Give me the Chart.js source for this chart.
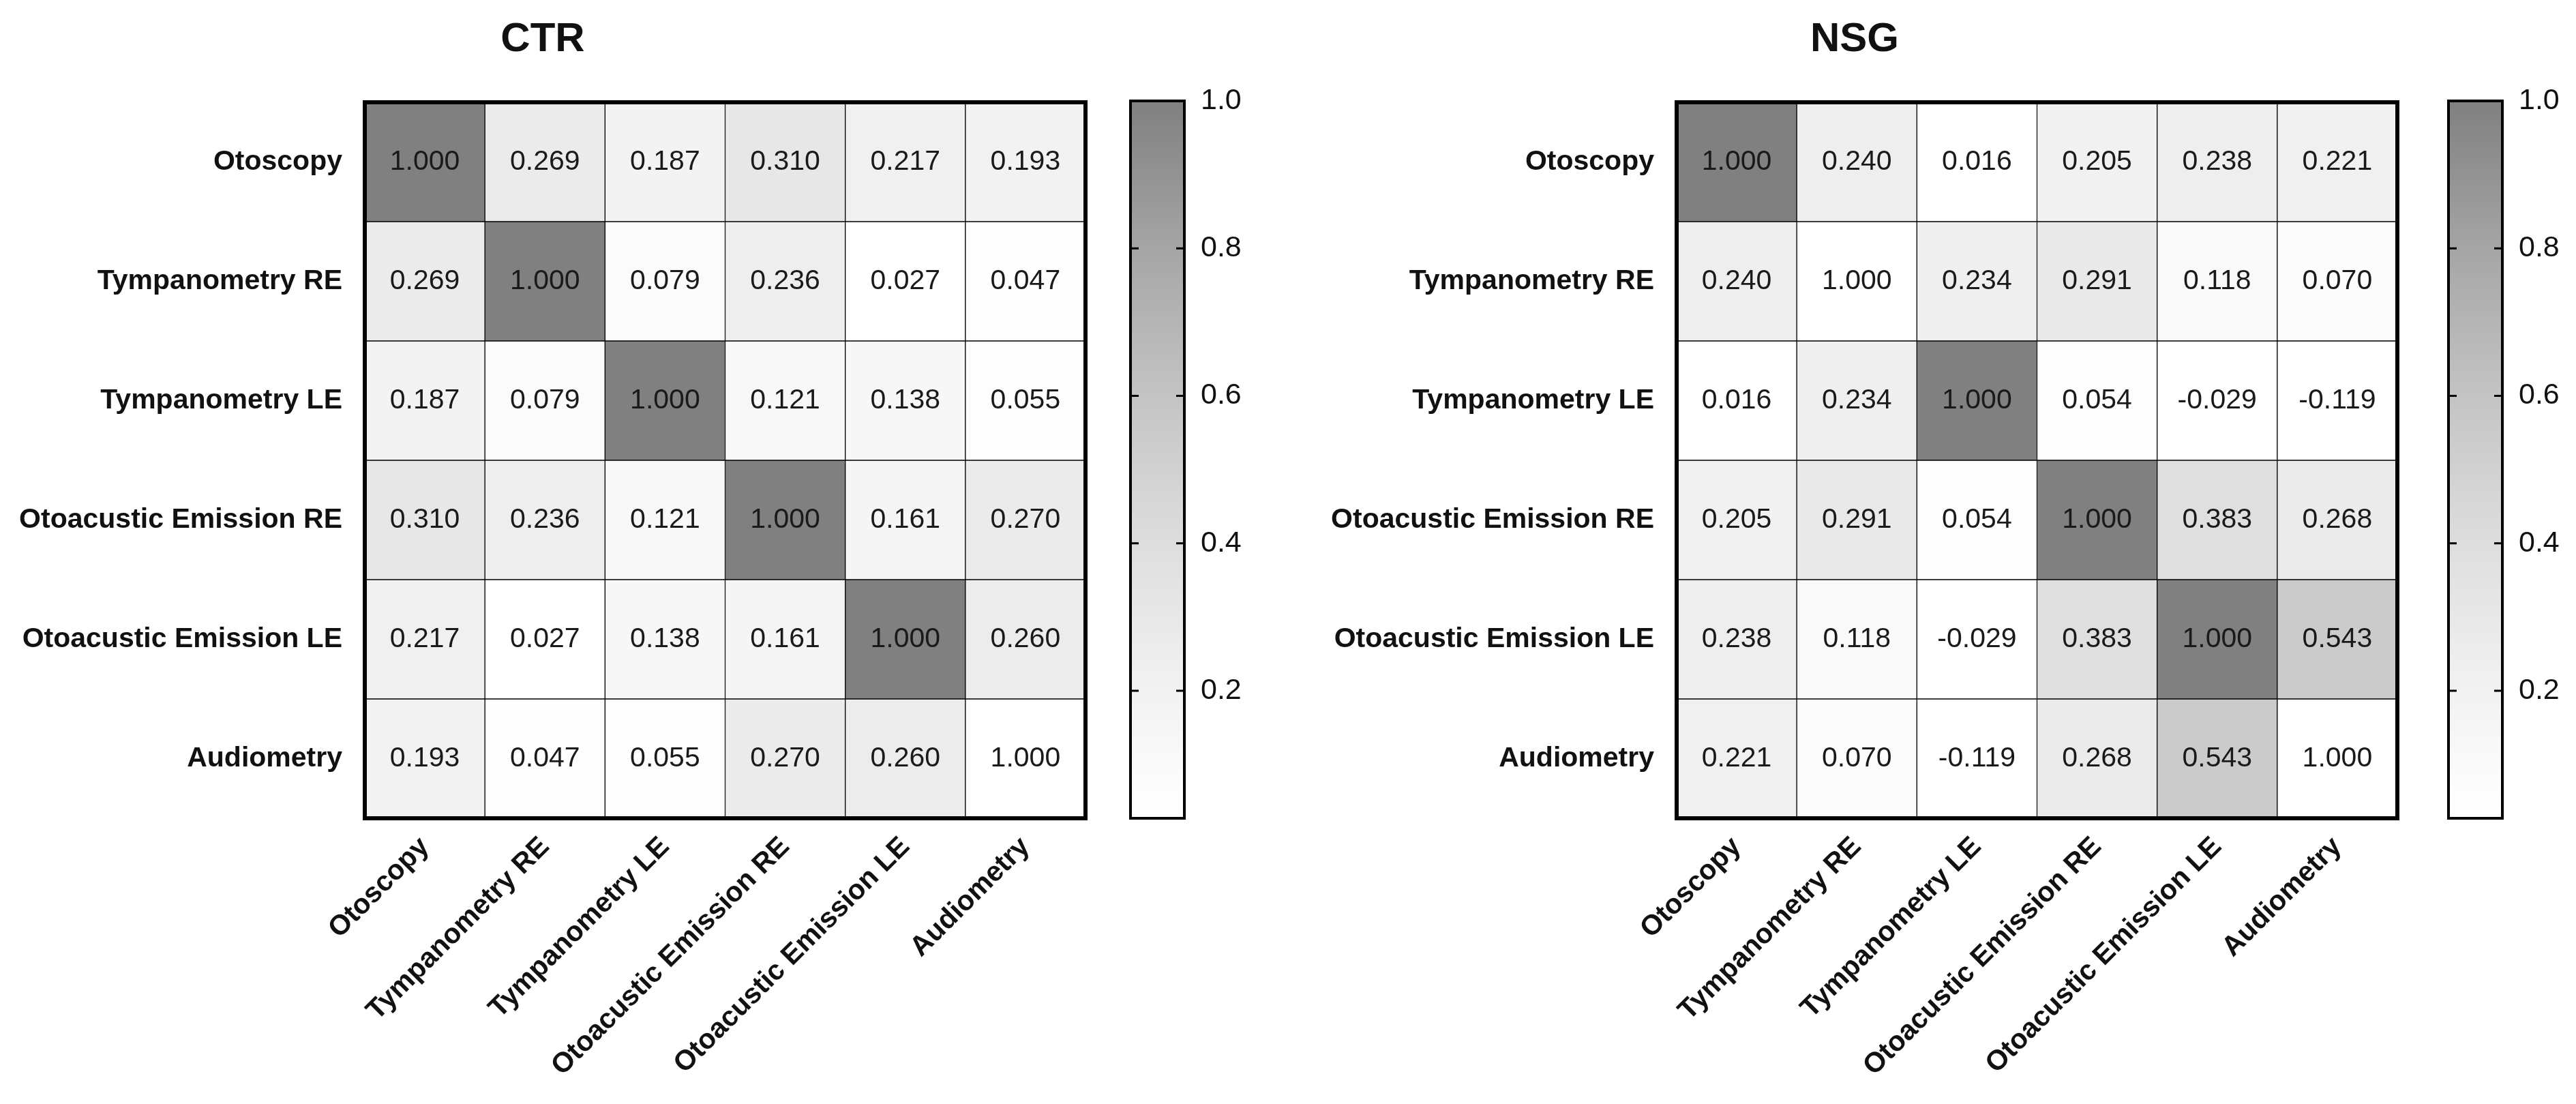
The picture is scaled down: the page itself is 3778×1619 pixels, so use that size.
<!DOCTYPE html>
<html>
<head>
<meta charset="utf-8">
<script src="https://cdn.jsdelivr.net/npm/chart.js@4.4.1/dist/chart.umd.min.js"></script>
<style>
html, body { margin: 0; padding: 0; background: #fff; }
#page { position: relative; width: 3778px; height: 1619px; overflow: hidden; background: #fff; }
canvas { position: absolute; top: 0; }
</style>
</head>
<body>
<div id="page">
  <canvas id="ctrMap" width="2127" height="1619" style="left:0px"></canvas>
  <canvas id="ctrBar" width="200" height="1619" style="left:1640px"></canvas>
  <canvas id="nsgMap" width="2127" height="1619" style="left:1924px"></canvas>
  <canvas id="nsgBar" width="200" height="1619" style="left:3573px"></canvas>
</div>
<script>
var measures = ["Otoscopy", "Tympanometry RE", "Tympanometry LE",
  "Otoacustic Emission RE", "Otoacustic Emission LE", "Audiometry"];

var ctrValues = [
  [1.000, 0.269, 0.187, 0.310, 0.217, 0.193],
  [0.269, 1.000, 0.079, 0.236, 0.027, 0.047],
  [0.187, 0.079, 1.000, 0.121, 0.138, 0.055],
  [0.310, 0.236, 0.121, 1.000, 0.161, 0.270],
  [0.217, 0.027, 0.138, 0.161, 1.000, 0.260],
  [0.193, 0.047, 0.055, 0.270, 0.260, 1.000]
];
var nsgValues = [
  [1.000, 0.240, 0.016, 0.205, 0.238, 0.221],
  [0.240, 1.000, 0.234, 0.291, 0.118, 0.070],
  [0.016, 0.234, 1.000, 0.054, -0.029, -0.119],
  [0.205, 0.291, 0.054, 1.000, 0.383, 0.268],
  [0.238, 0.118, -0.029, 0.383, 1.000, 0.543],
  [0.221, 0.070, -0.119, 0.268, 0.543, 1.000]
];
// cells left unshaded in the original figure [row, col]
var ctrBlank = [[5, 5]];
var nsgBlank = [[1, 1], [5, 5]];

var scaleMin = 0.027, scaleMax = 1.0;
var barTicks = [0.2, 0.4, 0.6, 0.8, 1.0];

Chart.defaults.font.family = "'Liberation Sans', Arial, Helvetica, sans-serif";
Chart.defaults.color = '#111';

function shade(v) {
  var t = (v - scaleMin) / (scaleMax - scaleMin);
  t = Math.max(0, Math.min(1, t));
  var f = 0.5 * t + 0.5 * t * t;
  var g = Math.round(255 - 127 * f);
  return 'rgb(' + g + ',' + g + ',' + g + ')';
}

function isBlank(list, r, c) {
  return list.some(function (p) { return p[0] === r && p[1] === c; });
}

var cellText = {
  id: 'cellText',
  afterDatasetsDraw: function (chart) {
    var ctx = chart.ctx;
    ctx.save();
    ctx.font = "41px 'Liberation Sans', Arial, sans-serif";
    ctx.fillStyle = '#1a1a1a';
    ctx.textAlign = 'center';
    ctx.textBaseline = 'middle';
    chart.data.datasets.forEach(function (ds, i) {
      chart.getDatasetMeta(i).data.forEach(function (bar, j) {
        var p = bar.getCenterPoint();
        ctx.fillText(ds.cellValues[j].toFixed(3), p.x, p.y);
      });
    });
    ctx.restore();
  }
};

var frame = {
  id: 'frame',
  afterDraw: function (chart, args, opts) {
    var a = chart.chartArea, ctx = chart.ctx;
    ctx.save();
    ctx.strokeStyle = '#000';
    ctx.lineWidth = opts.width || 6;
    ctx.strokeRect(a.left, a.top, a.right - a.left, a.bottom - a.top);
    ctx.restore();
  }
};

var barMarks = {
  id: 'barMarks',
  afterDraw: function (chart) {
    var y = chart.scales.y, a = chart.chartArea, ctx = chart.ctx;
    ctx.save();
    ctx.strokeStyle = '#000';
    ctx.lineWidth = 3;
    y.ticks.forEach(function (t) {
      if (t.value >= scaleMax) return;
      var py = y.getPixelForValue(t.value);
      ctx.beginPath();
      ctx.moveTo(a.left, py); ctx.lineTo(a.left + 12, py);
      ctx.moveTo(a.right - 12, py); ctx.lineTo(a.right, py);
      ctx.stroke();
    });
    ctx.restore();
  }
};

function heatmap(id, title, values, blank) {
  var datasets = values.map(function (row, r) {
    return {
      label: measures[r],
      data: row.map(function () { return 1; }),
      cellValues: row,
      backgroundColor: row.map(function (v, c) {
        return isBlank(blank, r, c) ? '#ffffff' : shade(v);
      }),
      borderColor: '#000',
      borderWidth: 1,
      borderSkipped: false,
      barPercentage: 1,
      categoryPercentage: 1
    };
  });

  return new Chart(document.getElementById(id), {
    type: 'bar',
    data: { labels: measures, datasets: datasets },
    options: {
      responsive: false,
      animation: false,
      devicePixelRatio: 1,
      layout: { padding: { left: 0, right: 535, top: 0, bottom: 0 } },
      plugins: {
        legend: { display: false },
        tooltip: { enabled: false },
        title: {
          display: true, text: title, color: '#111',
          font: { size: 60, weight: 'bold' },
          padding: { top: 22, bottom: 56 }
        },
        frame: { width: 6 }
      },
      scales: {
        x: {
          stacked: true,
          grid: { display: false, drawTicks: false },
          border: { display: false },
          ticks: {
            autoSkip: false, minRotation: 45, maxRotation: 45, padding: 18,
            color: '#111', font: { size: 41, weight: 'bold' }
          },
          afterFit: function (s) { s.height = 419; }
        },
        y: {
          stacked: true, reverse: true, min: 0, max: values.length,
          grid: { display: false, drawTicks: false },
          border: { display: false },
          afterBuildTicks: function (s) {
            s.ticks = measures.map(function (m, i) { return { value: i + 0.5 }; });
          },
          ticks: {
            padding: 33, color: '#111', font: { size: 41, weight: 'bold' },
            callback: function (v) { return measures[Math.floor(v)]; }
          },
          afterFit: function (s) { s.width = 535; }
        }
      }
    },
    plugins: [cellText, frame]
  });
}

function colorbar(id) {
  return new Chart(document.getElementById(id), {
    type: 'bar',
    data: {
      labels: [''],
      datasets: [{
        data: [[scaleMin, scaleMax]],
        barPercentage: 1,
        categoryPercentage: 1,
        borderWidth: 0,
        backgroundColor: function (c) {
          var ch = c.chart;
          if (!ch.chartArea) return '#cccccc';
          var y = ch.scales.y;
          var g = ch.ctx.createLinearGradient(0, y.getPixelForValue(scaleMin), 0, y.getPixelForValue(scaleMax));
          for (var k = 0; k <= 20; k++) {
            g.addColorStop(k / 20, shade(scaleMin + (scaleMax - scaleMin) * k / 20));
          }
          return g;
        }
      }]
    },
    options: {
      responsive: false,
      animation: false,
      devicePixelRatio: 1,
      layout: { padding: { left: 18, top: 148, bottom: 419, right: 0 } },
      plugins: {
        legend: { display: false },
        tooltip: { enabled: false },
        frame: { width: 4 }
      },
      scales: {
        x: { display: false },
        y: {
          position: 'right', min: scaleMin, max: scaleMax,
          grid: { display: false, drawTicks: false },
          border: { display: false },
          afterBuildTicks: function (s) {
            s.ticks = barTicks.map(function (v) { return { value: v }; });
          },
          ticks: {
            padding: 24, color: '#111', font: { size: 43 },
            callback: function (v) { return v.toFixed(1); }
          },
          afterFit: function (s) { s.width = 103; }
        }
      }
    },
    plugins: [frame, barMarks]
  });
}

heatmap('ctrMap', 'CTR', ctrValues, ctrBlank);
colorbar('ctrBar');
heatmap('nsgMap', 'NSG', nsgValues, nsgBlank);
colorbar('nsgBar');
</script>
</body>
</html>
